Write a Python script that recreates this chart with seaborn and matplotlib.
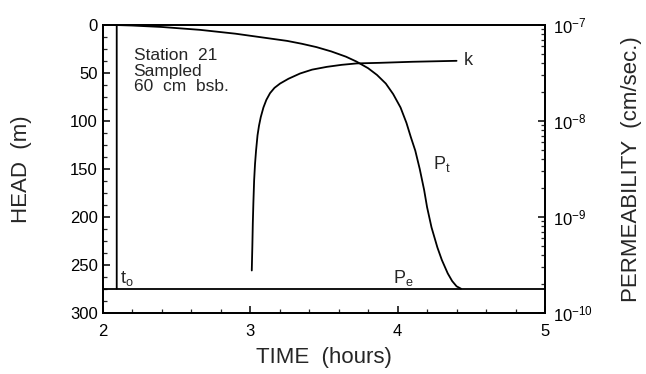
import numpy as np
import pandas as pd
import matplotlib
matplotlib.use("Agg")
import matplotlib.pyplot as plt
import matplotlib.ticker as mticker
import seaborn as sns

# ---- data ----
pe_head = 275.0
pe_time = [2.0, 5.0]

pt_time = [2.095, 2.095, 2.2, 2.4, 2.66, 2.9, 3.11, 3.25, 3.35, 3.45, 3.55, 3.65,
           3.72, 3.80, 3.86, 3.92, 3.97, 4.02, 4.06, 4.09, 4.12, 4.15, 4.18, 4.20,
           4.23, 4.27, 4.30, 4.34, 4.37, 4.40, 4.43]
pt_head = [275, 0, 0.5, 2, 5, 9, 13.5, 16.5, 19.5, 23, 27.5, 33,
           38, 45, 52, 61, 72, 86, 102, 117, 131, 150, 172, 190,
           211, 232, 245, 259, 267, 272.5, 275]

k_time = [3.011, 3.015, 3.018, 3.022, 3.027, 3.033, 3.040, 3.050, 3.060, 3.072,
          3.09, 3.11, 3.135, 3.165, 3.203, 3.26, 3.339, 3.42, 3.52, 3.62, 3.723,
          3.88, 4.1, 4.40]
k_log10 = [-9.56, -9.30, -9.07, -8.85, -8.62, -8.45, -8.31, -8.15, -8.05, -7.96,
           -7.86, -7.78, -7.71, -7.655, -7.61, -7.56, -7.505, -7.465, -7.436, -7.415, -7.40,
           -7.394, -7.383, -7.373]

x_ticks = [2, 3, 4, 5]
y_ticks = [0, 50, 100, 150, 200, 250, 300]

sns.set_theme(style="white")
plt.rcParams["font.family"] = ["Liberation Sans", "DejaVu Sans"]
plt.rcParams["mathtext.fontset"] = "custom"
plt.rcParams["mathtext.rm"] = "Liberation Sans"
plt.rcParams["mathtext.it"] = "Liberation Sans"
plt.rcParams["axes.linewidth"] = 1.3

fig = plt.figure(figsize=(6.46, 3.74), dpi=100)
ax = fig.add_axes([0.159, 0.164, 0.6847, 0.769])
ax2 = ax.twinx()

pt_df = pd.DataFrame({"time": pt_time, "head": pt_head})
pe_df = pd.DataFrame({"time": pe_time, "head": [pe_head, pe_head]})
k_df = pd.DataFrame({"time": k_time, "k": [10.0 ** v for v in k_log10]})

lw = 1.3
sns.lineplot(data=pe_df, x="time", y="head", ax=ax, color="black", lw=lw,
             sort=False, estimator=None)
sns.lineplot(data=pt_df, x="time", y="head", ax=ax, color="black", lw=lw,
             sort=False, estimator=None)
ax2.set_yscale("log")
sns.lineplot(data=k_df, x="time", y="k", ax=ax2, color="black", lw=lw,
             sort=False, estimator=None)
ax2.set_xlabel("")

ax.set_xlim(2, 5)
ax.set_ylim(300, 0)
ax2.set_ylim(1e-10, 1e-7)

ax.set_xticks(x_ticks)
ax.set_yticks(y_ticks)
ax.xaxis.set_minor_locator(mticker.MultipleLocator(0.2))
ax.yaxis.set_minor_locator(mticker.MultipleLocator(12.5))
ax2.yaxis.set_major_locator(mticker.LogLocator(base=10, numticks=10))
ax2.yaxis.set_minor_locator(mticker.LogLocator(base=10, subs=np.arange(2, 10), numticks=20))
ax2.yaxis.set_minor_formatter(mticker.NullFormatter())

for a in (ax, ax2):
    for s in a.spines.values():
        s.set_color("black")
        s.set_linewidth(1.3)

ax.tick_params(axis="both", which="major", direction="in", length=5, width=1.1,
               labelsize=12, colors="black", left=True, bottom=True, top=False, right=False)
ax.tick_params(axis="both", which="minor", direction="in", length=3, width=0.9,
               left=True, bottom=True, top=False, right=False)
ax.tick_params(axis="x", pad=8)
ax2.tick_params(axis="y", which="major", direction="in", length=5, width=1.1,
                labelsize=12, colors="black", pad=6)
ax2.tick_params(axis="y", which="minor", direction="in", length=3, width=0.9)

ax.set_xlabel("TIME  (hours)", fontsize=16, labelpad=6)
ax.set_ylabel("HEAD  (m)", fontsize=16, labelpad=27)
ax2.set_ylabel("PERMEABILITY  (cm/sec.)", fontsize=16, labelpad=20)

ax.text(2.21, 24, "Station  21\nSampled\n60  cm  bsb.", fontsize=12.5,
        va="top", ha="left", linespacing=1.05)
ax.text(2.12, 274, r"$\mathrm{t_o}$", fontsize=13, va="bottom", ha="left")
ax.text(3.97, 274, r"$\mathrm{P_e}$", fontsize=13, va="bottom", ha="left")
ax.text(4.24, 145, r"$\mathrm{P_t}$", fontsize=13, va="center", ha="left")
ax2.text(4.45, 10 ** -7.37, "k", fontsize=13, va="center", ha="left")

fig.savefig("out.png", dpi=100)
